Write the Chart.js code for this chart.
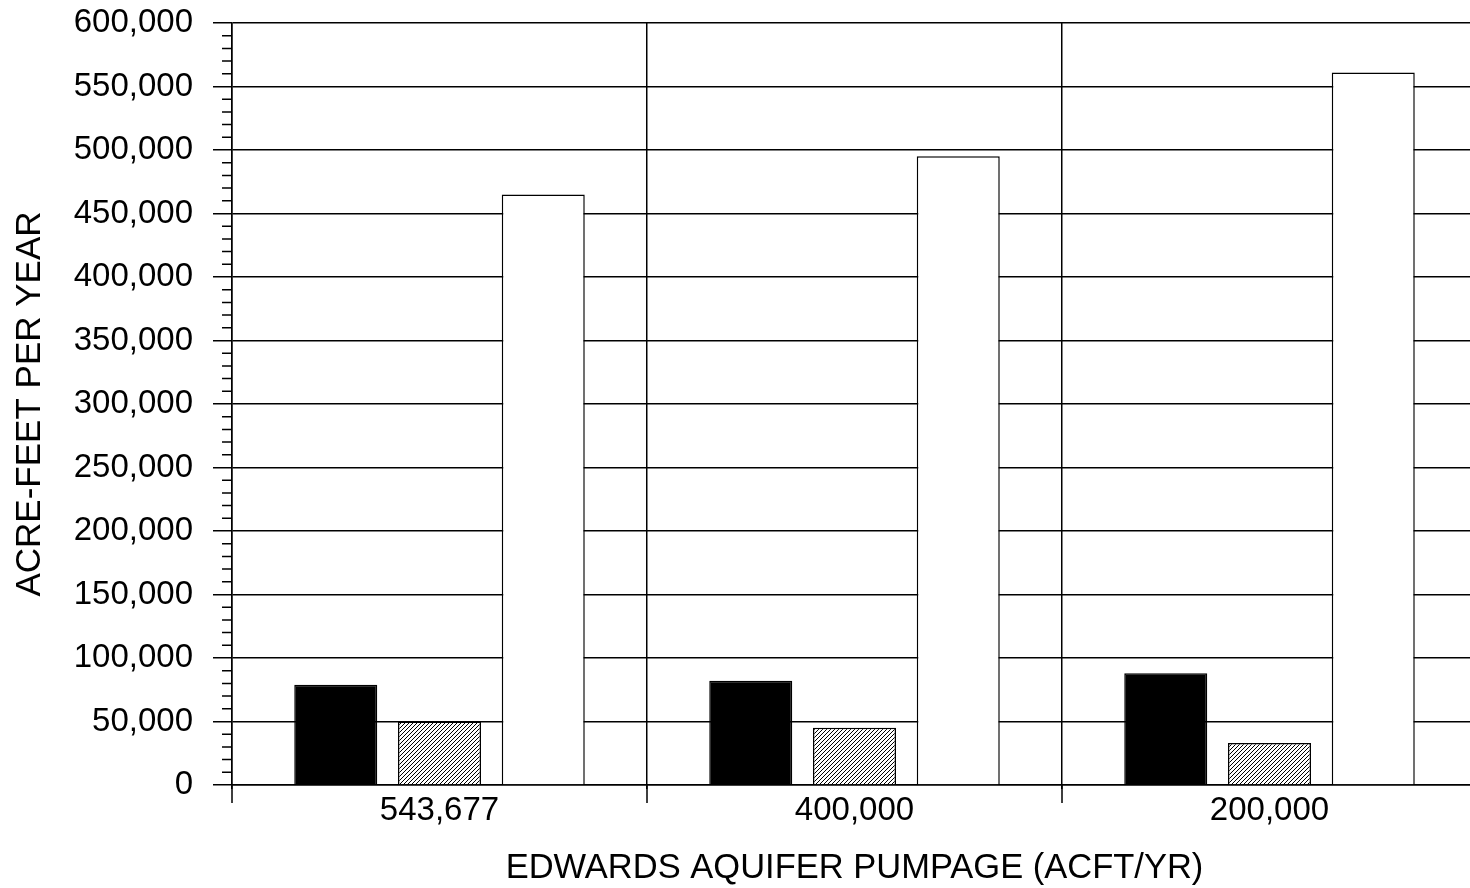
<!DOCTYPE html>
<html>
<head>
<meta charset="utf-8">
<script src="https://cdn.jsdelivr.net/npm/chart.js@4"></script>
<style>
  html, body { margin: 0; padding: 0; background: #fff; overflow: hidden; }
  #wrap { position: relative; width: 1480px; height: 888px; }
</style>
</head>
<body>
<div id="wrap"><canvas id="pumpChart"></canvas></div>
<script>
const categories = ["543,677", "400,000", "200,000"];
const blackValues = [79000, 82000, 88000];
const hatchedValues = [50000, 45000, 33000];
const whiteValues = [465000, 495000, 561000];
const yMin = 0, yMax = 600000, majorStep = 50000, minorStep = 10000;

const FONT = "'Liberation Sans', Arial, Helvetica, sans-serif";

// diagonal hatch fill
function hatch() {
  const c = document.createElement("canvas");
  c.width = 4; c.height = 4;
  const g = c.getContext("2d");
  g.fillStyle = "#fff";
  g.fillRect(0, 0, 4, 4);
  g.strokeStyle = "#000";
  g.lineWidth = 1;
  g.beginPath();
  g.moveTo(0, 4); g.lineTo(4, 0);
  g.moveTo(-1, 1); g.lineTo(1, -1);
  g.moveTo(3, 5); g.lineTo(5, 3);
  g.stroke();
  return g.createPattern(c, "repeat");
}

// minor ticks on y, and category separator ticks below the x axis
const extraTicks = {
  id: "extraTicks",
  afterDraw(chart) {
    const y = chart.scales.y;
    const x = chart.scales.x;
    const ctx = chart.ctx;
    ctx.save();
    ctx.strokeStyle = "#000";
    ctx.lineWidth = 1.5;
    ctx.beginPath();
    for (let v = yMin; v <= yMax; v += minorStep) {
      if (v % majorStep === 0) continue;
      const py = y.getPixelForValue(v);
      ctx.moveTo(y.right - 10, py);
      ctx.lineTo(y.right, py);
    }
    const half = (x.getPixelForValue(1) - x.getPixelForValue(0)) / 2;
    for (let i = 0; i <= categories.length; i++) {
      const px = x.getPixelForValue(i) - half;
      ctx.moveTo(px, x.top);
      ctx.lineTo(px, x.top + 18);
    }
    ctx.stroke();
    ctx.restore();
  }
};

const ctx = document.getElementById("pumpChart");

new Chart(ctx, {
  type: "bar",
  data: {
    labels: categories,
    datasets: [
      { label: "Series A", data: blackValues, backgroundColor: "#000", borderColor: "#000", borderWidth: 1.5 },
      { label: "Series B", data: hatchedValues, backgroundColor: hatch(), borderColor: "#000", borderWidth: 1.5 },
      { label: "Series C", data: whiteValues, backgroundColor: "#fff", borderColor: "#000", borderWidth: 1.5 }
    ]
  },
  options: {
    responsive: true,
    maintainAspectRatio: false,
    animation: false,
    layout: { padding: { top: 23, right: 3, left: 0, bottom: 0 } },
    datasets: { bar: { categoryPercentage: 0.75, barPercentage: 0.8 } },
    plugins: { legend: { display: false }, tooltip: { enabled: false } },
    scales: {
      x: {
        afterFit(s) { s.height = 103; },
        grid: { color: "#000", lineWidth: 1.5, tickLength: 4, offset: true },
        border: { color: "#000", width: 1.5 },
        ticks: { color: "#000", padding: 2, font: { family: FONT, size: 33, lineHeight: 1.2 } },
        title: {
          display: true,
          text: "EDWARDS AQUIFER PUMPAGE (ACFT/YR)",
          color: "#000",
          font: { family: FONT, size: 34.5, lineHeight: 1 },
          padding: { top: 0, bottom: 2 }
        }
      },
      y: {
        min: yMin,
        max: yMax,
        afterFit(s) { s.width = 232; s.paddingTop = 0; s.paddingBottom = 0; },
        grid: { color: "#000", lineWidth: 1.5, tickLength: 19 },
        border: { color: "#000", width: 1.5 },
        ticks: {
          stepSize: majorStep,
          color: "#000",
          padding: 20,
          font: { family: FONT, size: 33 },
          callback: (v) => v.toLocaleString("en-US")
        },
        title: {
          display: true,
          text: "ACRE-FEET PER YEAR",
          color: "#000",
          font: { family: FONT, size: 35, lineHeight: 1 },
          padding: { top: 13, bottom: 0 }
        }
      }
    }
  },
  plugins: [extraTicks]
});
</script>
</body>
</html>
